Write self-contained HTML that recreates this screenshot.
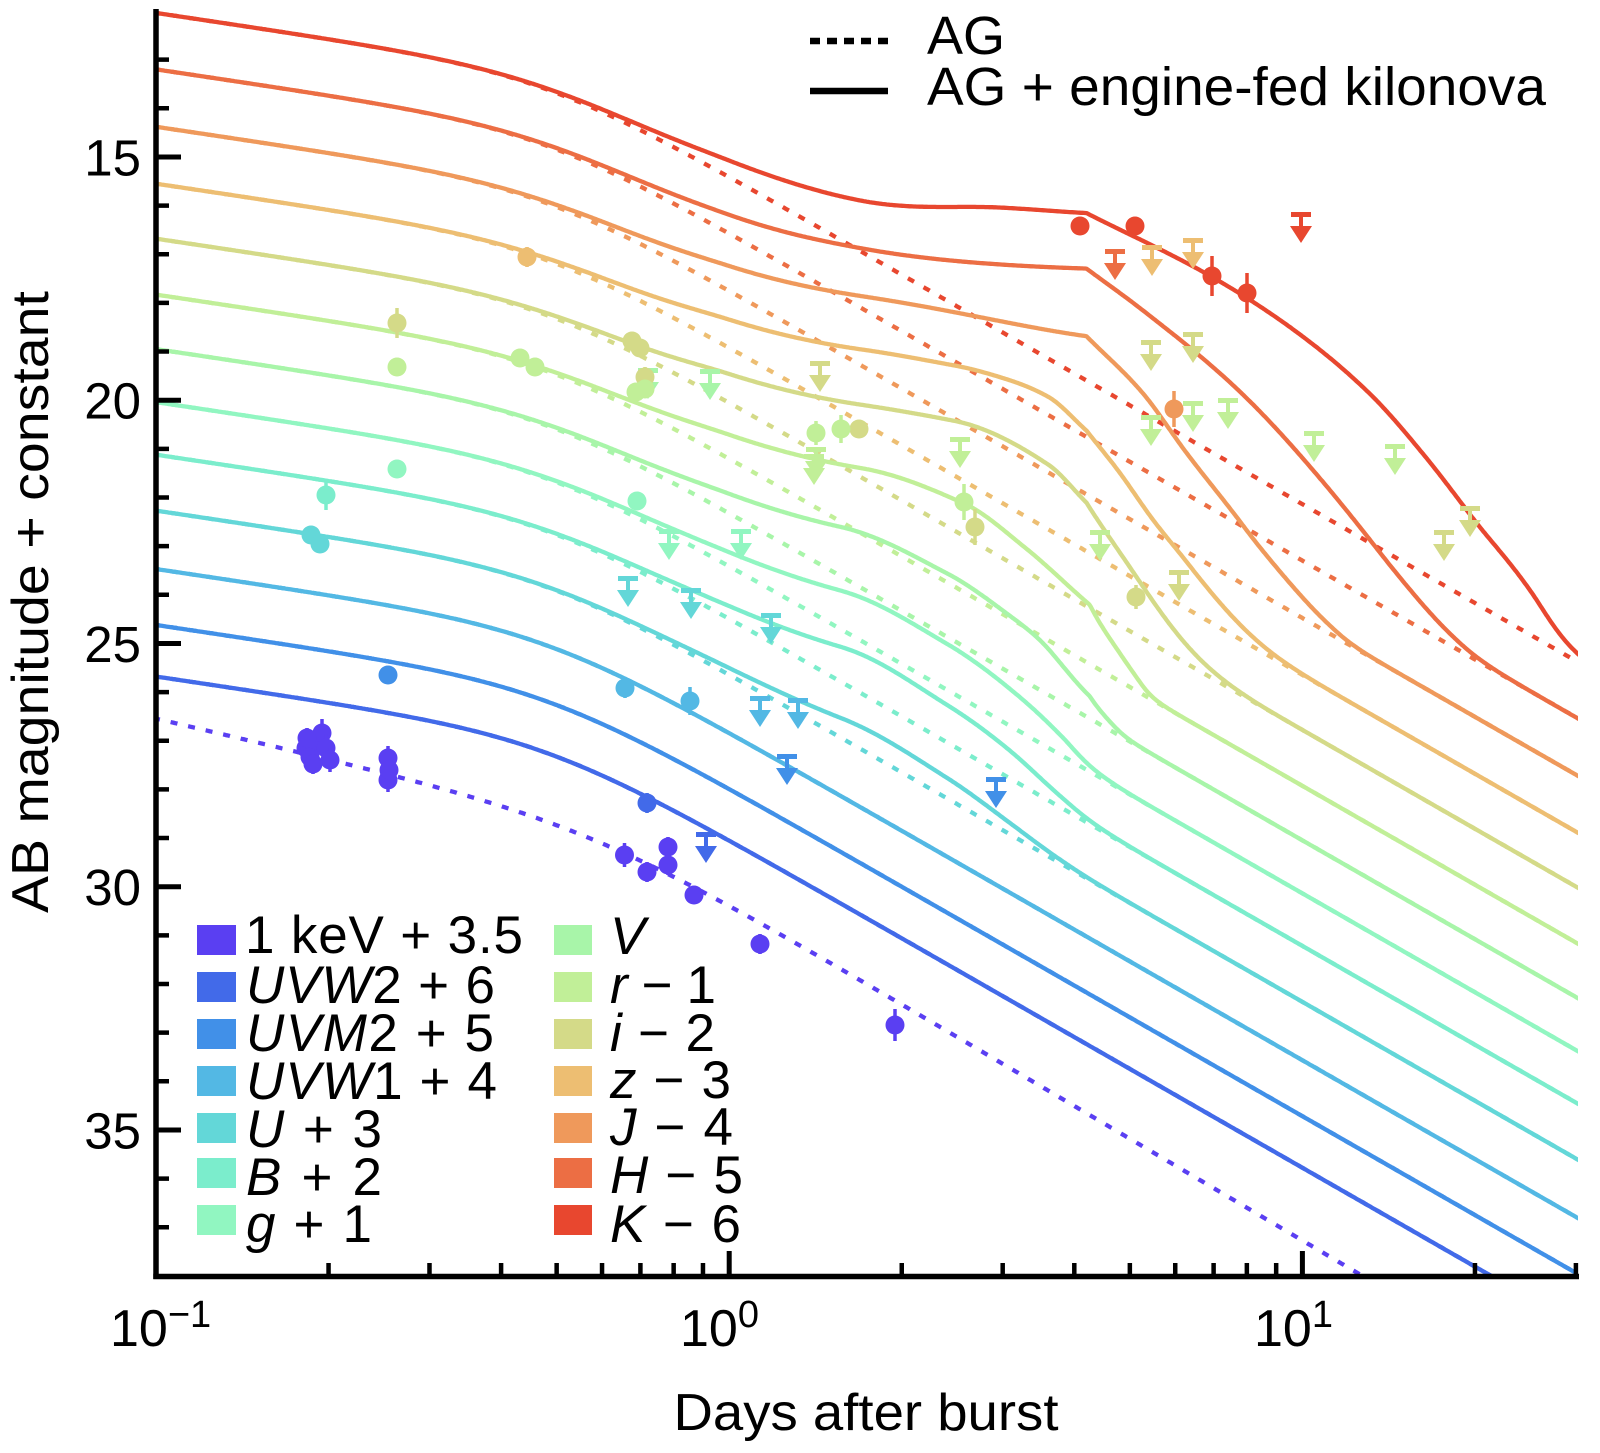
<!DOCTYPE html>
<html><head><meta charset="utf-8">
<style>
html,body{margin:0;padding:0;background:#fff;}
svg{display:block;}
text{font-family:"Liberation Sans",Arial,Helvetica,sans-serif;fill:#000;}
</style></head><body>
<svg id="s" xmlns="http://www.w3.org/2000/svg" width="1600" height="1453" viewBox="0 0 1600 1453">
<rect width="1600" height="1453" fill="#fff"/>
<defs><clipPath id="clip"><rect x="157" y="4" width="1421" height="1272"/></clipPath></defs>
<g id="curves" clip-path="url(#clip)" fill="none"></g>
<g id="marks"></g>

<!-- axes -->
<g stroke="#000" fill="none">
<line x1="156" y1="9" x2="156" y2="1279" stroke-width="5.5"/>
<line x1="153.3" y1="1276.5" x2="1579" y2="1276.5" stroke-width="5.5"/>
<path stroke-width="4.5" d="M156 59.65h13M156 108.3h13M156 205.6h13M156 254.25h13M156 302.9h13M156 351.55h13M156 448.85h13M156 497.5h13M156 546.15h13M156 594.8h13M156 692.1h13M156 740.75h13M156 789.4h13M156 838.05h13M156 935.35h13M156 984h13M156 1032.65h13M156 1081.3h13M156 1178.6h13M156 1227.25h13"/>
<path stroke-width="5" d="M156 156.95h25M156 400.2h25M156 643.45h25M156 886.7h25M156 1129.95h25"/>
<path stroke-width="4.5" d="M328.55 1276v-13M429.49 1276v-13M501.1 1276v-13M556.65 1276v-13M602.04 1276v-13M640.41 1276v-13M673.65 1276v-13M702.97 1276v-13M901.75 1276v-13M1002.69 1276v-13M1074.3 1276v-13M1129.85 1276v-13M1175.24 1276v-13M1213.61 1276v-13M1246.85 1276v-13M1276.17 1276v-13M1474.95 1276v-13M1575.9 1276v-13"/>
<path stroke-width="5" d="M729.2 1276v-25M1302.4 1276v-25"/>
</g>

<!-- y tick labels -->
<g font-size="51" text-anchor="end">
<text x="141" y="175.5">15</text>
<text x="141" y="418.7">20</text>
<text x="141" y="662">25</text>
<text x="141" y="905.2">30</text>
<text x="141" y="1148.5">35</text>
</g>
<!-- x tick labels -->
<g font-size="52">
<text x="110" y="1346">10<tspan font-size="38" dy="-19">−1</tspan></text>
<text x="680" y="1346">10<tspan font-size="38" dy="-19">0</tspan></text>
<text x="1254" y="1346">10<tspan font-size="38" dy="-19">1</tspan></text>
</g>
<!-- axis titles -->
<text x="866" y="1430" font-size="52" text-anchor="middle" textLength="385" lengthAdjust="spacingAndGlyphs">Days after burst</text>
<text transform="translate(48,602) rotate(-90)" font-size="52" text-anchor="middle" textLength="622" lengthAdjust="spacingAndGlyphs">AB magnitude + constant</text>

<!-- top-right legend -->
<line x1="810" y1="41" x2="888" y2="41" stroke="#000" stroke-width="6.5" stroke-dasharray="10 7"/>
<line x1="810" y1="91" x2="888" y2="91" stroke="#000" stroke-width="6.5"/>
<text x="927" y="54" font-size="54">AG</text>
<text x="927" y="105" font-size="54" textLength="619" lengthAdjust="spacingAndGlyphs">AG + engine-fed kilonova</text>

<!-- lower-left legend -->
<g>
<rect x="197" y="925" width="39" height="30" fill="#5A3FF2"/>
<rect x="197" y="972" width="39" height="30" fill="#426AE9"/>
<rect x="197" y="1019" width="39" height="30" fill="#4190E8"/>
<rect x="197" y="1066" width="39" height="30" fill="#53B8E4"/>
<rect x="197" y="1113" width="39" height="30" fill="#63D7D8"/>
<rect x="197" y="1158" width="39" height="30" fill="#7BEDCC"/>
<rect x="197" y="1205" width="39" height="30" fill="#91F6C1"/>
<rect x="554" y="925" width="38" height="30" fill="#A8F5A9"/>
<rect x="554" y="972" width="38" height="30" fill="#C1EF98"/>
<rect x="554" y="1019" width="38" height="30" fill="#D4DA88"/>
<rect x="554" y="1066" width="38" height="30" fill="#EDBE72"/>
<rect x="554" y="1113" width="38" height="30" fill="#EF995B"/>
<rect x="554" y="1158" width="38" height="30" fill="#EC6E44"/>
<rect x="554" y="1205" width="38" height="30" fill="#E8472F"/>
</g>
<g font-size="53">
<text x="245" y="953" textLength="278">1 keV + 3.5</text>
<text x="246" y="1003" textLength="249"><tspan font-style="italic">UVW</tspan>2 + 6</text>
<text x="246" y="1051" textLength="248"><tspan font-style="italic">UVM</tspan>2 + 5</text>
<text x="246" y="1099" textLength="251"><tspan font-style="italic">UVW</tspan>1 + 4</text>
<text x="246" y="1147" textLength="136"><tspan font-style="italic">U</tspan> + 3</text>
<text x="246" y="1195" textLength="136"><tspan font-style="italic">B</tspan> + 2</text>
<text x="246" y="1242" textLength="126"><tspan font-style="italic">g</tspan> + 1</text>
<text x="610" y="954"><tspan font-style="italic">V</tspan></text>
<text x="610" y="1003" textLength="106"><tspan font-style="italic">r</tspan> − 1</text>
<text x="610" y="1051" textLength="105"><tspan font-style="italic">i</tspan> − 2</text>
<text x="610" y="1098" textLength="121"><tspan font-style="italic">z</tspan> − 3</text>
<text x="610" y="1145" textLength="123"><tspan font-style="italic">J</tspan> − 4</text>
<text x="610" y="1193" textLength="133"><tspan font-style="italic">H</tspan> − 5</text>
<text x="610" y="1242" textLength="131"><tspan font-style="italic">K</tspan> − 6</text>
</g>
</svg>
<script>
(function(){
var NS="http://www.w3.org/2000/svg";
function X(t){return 156+(Math.log10(t)+1)*573.2;}
function Y(m){return 11+(m-12)*48.65;}
var LB=Math.log10(0.479);
function f(d,a1,a2){return 1.25*Math.log10(Math.pow(10,2*a1*d)+Math.pow(10,2*a2*d));}
var F0=f(-1-LB,0.7,2.7);
function ag(t,left){return left-F0+f(Math.log10(t)-LB,0.7,2.7);}
var LX=Math.log10(0.569);
function xr(t){return 28.62+f(Math.log10(t)-LX,1.1,2.78);}
function pchip(pts,x){
  var n=pts.length,xs=[],ys=[],h=[],d=[],m=[],i;
  for(i=0;i<n;i++){xs.push(Math.log10(pts[i][0]));ys.push(pts[i][1]);}
  for(i=0;i<n-1;i++){h.push(xs[i+1]-xs[i]);d.push((ys[i+1]-ys[i])/h[i]);}
  if(n===2){return ys[0]+(x-xs[0])*d[0];}
  m[0]=d[0];m[n-1]=d[n-2];
  for(i=1;i<n-1;i++){
    if(d[i-1]*d[i]<=0){m[i]=0;}
    else{var w1=2*h[i]+h[i-1],w2=h[i]+2*h[i-1];m[i]=(w1+w2)/(w1/d[i-1]+w2/d[i]);}
  }
  // end slopes: simple 3-point, limited
  var k=0;for(i=0;i<n-1;i++){if(x>=xs[i])k=i;}
  var tt=(x-xs[k])/h[k];
  var h00=2*tt*tt*tt-3*tt*tt+1,h10=tt*tt*tt-2*tt*tt+tt,h01=-2*tt*tt*tt+3*tt*tt,h11=tt*tt*tt-tt*tt;
  return h00*ys[k]+h10*h[k]*m[k]+h01*ys[k+1]+h11*h[k]*m[k+1];
}
function kn(t,segs){
  if(!segs) return 99;
  var L=Math.log10(t);
  var first=segs[0][0];
  if(t<=first[0]){return first[1]+6*(Math.log10(first[0])-L);}
  for(var s=0;s<segs.length;s++){
    var p=segs[s];
    if(t>=p[0][0]&&t<=p[p.length-1][0]){return pchip(p,L);}
  }
  return 99;
}
function sum(a,b){return -2.5*Math.log10(Math.pow(10,-0.4*a)+Math.pow(10,-0.4*b));}
function path(fn){
  var s="";
  for(var i=0;i<=1000;i++){
    var L=-1.005+i*2.49/1000;var t=Math.pow(10,L);var m=fn(t);
    if(m>45)m=45;
    s+=(i?"L":"M")+X(t).toFixed(1)+" "+Y(m).toFixed(1);
  }
  return s;
}
var bands=[
 ["#426AE9",25.68,null],
 ["#4190E8",24.62,null],
 ["#53B8E4",23.47,null],
 ["#63D7D8",22.27,[[[0.3,30.7],[0.6,28.5],[1.0,27.8],[1.56,27.8],[2.4,29],[3.1,30.5],[3.8,32.5],[4.5,35],[5.5,38]]]],
 ["#7BEDCC",21.12,[[[0.3,28.8],[0.6,26.6],[1.0,25.9],[1.56,25.86],[2.4,27.0],[3.1,28.2],[3.8,30],[4.5,32.5],[5.2,35],[6,38]]]],
 ["#91F6C1",20.04,[[[0.3,27.6],[0.6,25.4],[1.0,24.7],[1.56,24.63],[2.4,25.6],[3.1,26.7],[3.8,28.2],[4.5,31],[5.2,34],[6,37]]]],
 ["#A8F5A9",18.95,[[[0.3,26.2],[0.6,24.0],[1.0,23.2],[1.56,23.15],[2.4,23.95],[3.1,24.9],[3.48,25.46],[4.26,27.25]],[[4.26,27.25],[4.64,28.8],[5.2,32],[6,36]]]],
 ["#C1EF98",17.83,[[[0.3,24.8],[0.6,22.6],[1.0,21.8],[1.69,21.77],[2.57,22.35],[3.28,23.3],[4.26,24.64]],[[4.26,24.64],[5.11,27.2],[5.6,30],[6.2,34]]]],
 ["#D4DA88",16.68,[[[0.3,23.4],[0.6,21.2],[1.0,20.4],[1.7,20.41],[2.47,20.57],[3.6,21.44],[4.2,22.27]],[[4.2,22.27],[5.2,24.2],[6.55,26.9],[8,30],[9.5,34]]]],
 ["#EDBE72",15.55,[[[0.3,22.3],[0.6,20.1],[1.0,19.3],[1.7,19.27],[2.47,19.43],[2.98,19.64],[3.6,20.02],[4.2,20.74]],[[4.2,20.74],[4.79,21.66],[5.47,22.77],[6.35,24.0],[8,26.5],[10,30],[12,34]]]],
 ["#EF995B",14.38,[[[0.3,21.3],[0.6,19.1],[1.0,18.3],[1.7,18.2],[4.2,18.74]],[[4.2,18.74],[5.27,19.95],[6.2,21.17],[7.96,23.1],[11,26.5],[13,30],[15,34]]]],
 ["#EC6E44",13.2,[[[0.3,20.5],[0.6,18.3],[1.0,17.5],[1.7,17.3],[4.2,17.34]],[[4.2,17.34],[5.27,18.21],[7.71,19.87],[10.23,21.5],[13.6,23.6],[18,26.5],[22,30],[26,34]]]],
 ["#E8472F",12.04,[[[0.3,19.5],[0.6,17.3],[1.0,16.5],[1.7,16.42],[3.0,16.15],[4.2,16.2]],[[4.2,16.2],[6.94,17.5],[9.66,18.6],[13.1,19.93],[16.4,21.29],[19.9,22.7],[24.9,24.5],[31,27.7]]]]
];
var g=document.getElementById("curves");
function addPath(d,c,dash){
  var p=document.createElementNS(NS,"path");
  p.setAttribute("d",d);p.setAttribute("stroke",c);p.setAttribute("stroke-width","4.3");
  p.setAttribute("fill","none");p.setAttribute("stroke-linejoin","round");
  if(dash){p.setAttribute("stroke-dasharray","7 11");}
  g.appendChild(p);
}
addPath(path(function(t){return xr(t);}),"#5A3FF2",true);
bands.forEach(function(b){
  addPath(path(function(t){return ag(t,b[1]);}),b[0],true);
});
bands.forEach(function(b){
  addPath(path(function(t){return sum(ag(t,b[1]),kn(t,b[2]));}),b[0],false);
});

var mk=document.getElementById("marks");
function el(n,a){var e=document.createElementNS(NS,n);for(var k in a)e.setAttribute(k,a[k]);mk.appendChild(e);return e;}
function circ(c,x,y,e){
  if(e){el("line",{x1:x,y1:y-e,x2:x,y2:y+e,stroke:c,"stroke-width":3.5});}
  el("circle",{cx:x,cy:y,r:9.5,fill:c});
}
function ul(c,x,y){
  var d="M"+(x-10)+" "+y+"h20v5h-20z"+
        "M"+(x-2)+" "+y+"h4v17h-4z"+
        "M"+(x-11)+" "+(y+14)+"L"+(x+11)+" "+(y+14)+"L"+x+" "+(y+31)+"z";
  el("path",{d:d,fill:c});
}
var K="#E8472F",H="#EC6E44",J="#EF995B",Z="#EDBE72",I="#D4DA88",R="#C1EF98",V="#A8F5A9",G="#91F6C1",B="#7BEDCC",U="#63D7D8",W1="#53B8E4",M2="#4190E8",W2="#426AE9",XR="#5A3FF2";
[[K,1301,212],[H,1115,249],[Z,1152,245],[Z,1193,238],
 [I,1151,340],[I,1193,332],[I,1179,570],[I,1444,530],[I,1470,506],[I,820,361],
 [R,1151,415],[R,1193,401],[R,1228,398],[R,1100,530],[R,1314,431],[R,1395,444],[R,960,437],[R,816,447],[R,814,454],
 [V,648,368],[V,710,369],
 [G,669,529],[G,741,529],
 [U,628,576],[U,691,588],[U,771,613],
 [W1,760,696],[W1,798,698],
 [M2,787,754],[M2,996,777],
 [W2,706,832]
].forEach(function(a){ul(a[0],a[1],a[2]);});
[[K,1080,226,0],[K,1135,226,0],[K,1212,276,20],[K,1247,293,20],
 [J,1174,409,18],
 [Z,527,257,10],
 [I,397,323,15],[I,632,341,0],[I,640,348,0],[I,645,377,10],[I,859,429,0],[I,975,527,18],[I,1136,597,12],
 [R,397,367,0],[R,520,358,0],[R,535,367,0],[R,636,392,0],[R,645,389,0],[R,816,433,12],[R,841,429,14],[R,964,502,18],
 [G,397,469,0],[G,637,501,0],
 [B,326,495,15],
 [U,311,535,0],[U,320,544,0],
 [W1,625,688,10],[W1,690,701,14],
 [M2,388,675,0],
 [W2,647,803,10],
 [XR,306,748,14],[XR,310,757,14],[XR,316,740,12],[XR,322,733,14],[XR,326,748,14],[XR,330,760,12],[XR,313,764,10],[XR,307,738,10],
 [XR,388,758,12],[XR,388,780,12],[XR,389,770,10],
 [XR,624.5,855,12],[XR,647,872,10],[XR,668,847,10],[XR,668,865,10],[XR,694,895,8],[XR,760,944,10],[XR,895,1025,16]
].forEach(function(a){circ(a[0],a[1],a[2],a[3]);});
})();
</script>
</body></html>
